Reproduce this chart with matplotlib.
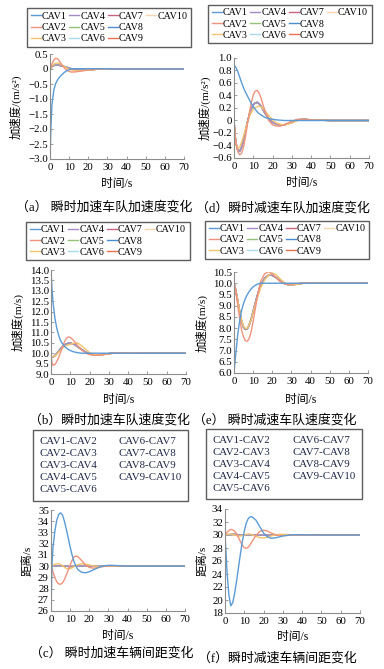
import numpy as np
import matplotlib
matplotlib.use('Agg')
import matplotlib.pyplot as plt
from matplotlib.lines import Line2D

plt.rcParams['font.family'] = ['Liberation Serif', 'Noto Sans CJK SC']

# ---------------- data ----------------
t = [0, 0.5, 1, 2, 3, 4, 5, 6, 7, 8, 9, 10, 11, 12, 13, 14, 16, 18, 20,
     22, 24, 26, 28, 30, 33, 36, 40, 50, 70]
t_flat = [0, 5, 10, 15, 20, 30, 40, 70]

cav_names = ['CAV1', 'CAV2', 'CAV3', 'CAV4', 'CAV5', 'CAV6', 'CAV7', 'CAV8', 'CAV9', 'CAV10']
gap_names = ['CAV1-CAV2', 'CAV2-CAV3', 'CAV3-CAV4', 'CAV4-CAV5', 'CAV5-CAV6',
             'CAV6-CAV7', 'CAV7-CAV8', 'CAV8-CAV9', 'CAV9-CAV10']

# (a) acceleration, accelerating platoon
a_cav1 = [-3.0, -1.9, -1.2, -0.7, -0.48, -0.36, -0.27, -0.2, -0.14, -0.09, -0.05, -0.02, 0.0, 0.01,
          0.01, 0.01, 0.01, 0.01, 0.01, 0.01, 0.01, 0.01, 0.01, 0.01, 0.0, 0.0, 0.0, 0.0, 0.0]
a_cav2 = [0.0, 0.08, 0.17, 0.3, 0.36, 0.34, 0.26, 0.16, 0.07, 0.0, -0.05, -0.08, -0.1, -0.1,
          -0.1, -0.09, -0.07, -0.05, -0.03, -0.02, -0.01, 0.0, 0.01, 0.01, 0.01, 0.0, 0.0, 0.0, 0.0]
a_cav3 = [0.0, 0.05, 0.1, 0.16, 0.19, 0.2, 0.18, 0.14, 0.1, 0.06, 0.02, -0.01, -0.03, -0.05,
          -0.06, -0.06, -0.06, -0.05, -0.04, -0.03, -0.01, 0.0, 0.01, 0.01, 0.01, 0.0, 0.0, 0.0, 0.0]
a_rest = [0.0, 0.04, 0.08, 0.12, 0.13, 0.13, 0.12, 0.11, 0.09, 0.07, 0.05, 0.03, 0.01, -0.01,
          -0.02, -0.03, -0.04, -0.04, -0.03, -0.02, -0.01, 0.0, 0.01, 0.01, 0.01, 0.0, 0.0, 0.0, 0.0]

# (d) acceleration, decelerating platoon
d_cav1 = [0.88, 0.87, 0.85, 0.78, 0.69, 0.6, 0.52, 0.45, 0.39, 0.33, 0.27, 0.22, 0.18, 0.14,
          0.11, 0.09, 0.05, 0.03, 0.02, 0.01, 0.005, 0.0, 0.0, 0.0, 0.0, 0.0, 0.0, 0.0, 0.0]
d_cav2 = [0.0, -0.2, -0.35, -0.5, -0.55, -0.52, -0.42, -0.25, -0.05, 0.13, 0.29, 0.41, 0.47, 0.48,
          0.44, 0.36, 0.16, 0.0, -0.07, -0.09, -0.09, -0.07, -0.04, -0.01, 0.02, 0.02, 0.01, 0.0, 0.0]
d_cav3 = [0.0, -0.25, -0.38, -0.45, -0.42, -0.34, -0.24, -0.13, -0.03, 0.06, 0.13, 0.18, 0.21, 0.22,
          0.23, 0.22, 0.16, 0.08, 0.01, -0.04, -0.06, -0.07, -0.06, -0.04, 0.0, 0.02, 0.01, 0.0, 0.0]
d_rest = [0.0, -0.22, -0.36, -0.48, -0.49, -0.42, -0.3, -0.16, -0.02, 0.1, 0.19, 0.25, 0.28, 0.29,
          0.27, 0.23, 0.12, 0.03, -0.03, -0.06, -0.07, -0.07, -0.05, -0.03, 0.01, 0.02, 0.01, 0.0, 0.0]

# (b) speed, accelerating platoon
b_cav1 = [14.0, 13.1, 12.5, 11.7, 11.2, 10.85, 10.6, 10.45, 10.33, 10.25, 10.18, 10.13, 10.09, 10.06,
          10.04, 10.02, 10.0, 10.0, 10.0, 10.0, 10.0, 10.0, 10.0, 10.0, 10.0, 10.0, 10.0, 10.0, 10.0]
b_cav2 = [9.95, 9.55, 9.42, 9.45, 9.6, 9.8, 10.05, 10.3, 10.55, 10.72, 10.78, 10.76, 10.68, 10.58,
          10.46, 10.34, 10.15, 10.0, 9.93, 9.9, 9.9, 9.92, 9.95, 9.98, 10.01, 10.02, 10.01, 10.0, 10.0]
b_cav3 = [9.85, 9.83, 9.83, 9.87, 9.95, 10.05, 10.15, 10.25, 10.32, 10.37, 10.4, 10.42, 10.45, 10.48,
          10.5, 10.48, 10.35, 10.18, 10.03, 9.95, 9.92, 9.92, 9.94, 9.97, 10.0, 10.02, 10.01, 10.0, 10.0]
b_rest = [9.85, 9.82, 9.82, 9.88, 9.98, 10.1, 10.22, 10.32, 10.4, 10.45, 10.48, 10.48, 10.46, 10.42,
          10.37, 10.3, 10.17, 10.05, 9.97, 9.93, 9.92, 9.93, 9.95, 9.98, 10.01, 10.02, 10.01, 10.0, 10.0]

# (e) speed, decelerating platoon
e_cav1 = [6.0, 6.5, 6.9, 7.75, 8.35, 8.8, 9.1, 9.33, 9.5, 9.64, 9.75, 9.84, 9.9, 9.95,
          9.98, 10.0, 10.0, 10.0, 10.0, 10.0, 10.0, 10.0, 10.0, 10.0, 10.0, 10.0, 10.0, 10.0, 10.0]
e_cav2 = [10.0, 9.85, 9.6, 9.0, 8.4, 7.9, 7.6, 7.43, 7.42, 7.55, 7.85, 8.3, 8.8, 9.3,
          9.75, 10.1, 10.42, 10.52, 10.42, 10.25, 10.08, 9.98, 9.95, 9.96, 9.99, 10.02, 10.01, 10.0, 10.0]
e_cav3 = [10.0, 9.85, 9.65, 9.2, 8.75, 8.35, 8.08, 7.98, 8.0, 8.15, 8.4, 8.7, 9.0, 9.3,
          9.55, 9.8, 10.15, 10.35, 10.45, 10.38, 10.2, 10.05, 9.95, 9.92, 9.95, 10.0, 10.02, 10.0, 10.0]
e_rest = [10.0, 9.85, 9.65, 9.2, 8.72, 8.3, 8.03, 7.94, 7.98, 8.15, 8.42, 8.75, 9.08, 9.4,
          9.68, 9.92, 10.22, 10.36, 10.35, 10.25, 10.12, 10.0, 9.94, 9.93, 9.96, 10.0, 10.02, 10.0, 10.0]

# (c) spacing, accelerating platoon
c_12 = [26.0, 30.0, 31.6, 33.1, 34.1, 34.6, 34.75, 34.55, 34.0, 33.3, 32.5, 31.7, 31.0, 30.4,
        30.0, 29.7, 29.45, 29.4, 29.5, 29.65, 29.82, 29.95, 30.03, 30.07, 30.06, 30.03, 30.0, 30.0, 30.0]
c_23 = [30.0, 29.8, 29.5, 29.0, 28.6, 28.42, 28.38, 28.5, 28.8, 29.2, 29.65, 30.1, 30.5, 30.8,
        30.9, 30.85, 30.5, 30.1, 29.88, 29.82, 29.85, 29.93, 29.98, 30.02, 30.03, 30.01, 30.0, 30.0, 30.0]
c_34 = [30.0, 30.03, 30.08, 30.15, 30.2, 30.2, 30.15, 30.05, 29.9, 29.8, 29.75, 29.77, 29.85, 29.95,
        30.05, 30.13, 30.2, 30.18, 30.1, 30.02, 29.97, 29.96, 29.98, 30.0, 30.0, 30.0, 30.0, 30.0, 30.0]
c_rest = [30.0, 30.04, 29.96, 30.03, 29.98, 30.01, 30.0, 30.0]

# (f) spacing, decelerating platoon
f_12 = [30.0, 27.5, 24.5, 20.8, 19.1, 19.6, 21.0, 22.9, 25.0, 27.1, 29.0, 30.6, 31.8, 32.5,
        32.8, 32.8, 32.3, 31.3, 30.3, 29.7, 29.5, 29.55, 29.7, 29.85, 29.98, 30.05, 30.02, 30.0, 30.0]
f_23 = [30.0, 30.2, 30.4, 30.7, 30.85, 30.8, 30.6, 30.2, 29.6, 29.0, 28.4, 28.05, 27.95, 28.1,
        28.5, 29.0, 29.9, 30.55, 30.75, 30.6, 30.3, 30.05, 29.92, 29.9, 29.95, 30.0, 30.02, 30.0, 30.0]
f_34 = [30.0, 30.05, 30.1, 30.15, 30.15, 30.1, 30.0, 29.9, 29.85, 29.85, 29.9, 30.0, 30.1, 30.15,
        30.15, 30.05, 29.8, 29.6, 29.55, 29.65, 29.85, 30.0, 30.1, 30.1, 30.05, 30.0, 30.0, 30.0, 30.0]
f_rest = [30.0, 30.1, 29.95, 30.05, 29.95, 30.02, 30.0, 30.0]

xticks = [0, 10, 20, 30, 40, 50, 60, 70]
a_yticks = [0.5, 0, -0.5, -1.0, -1.5, -2.0, -2.5, -3.0]
a_ylabels = ['0.5', '0', '\u22120.5', '\u22121.0', '\u22121.5', '\u22122.0', '\u22122.5', '\u22123.0']
d_yticks = [1.0, 0.8, 0.6, 0.4, 0.2, 0, -0.2, -0.4, -0.6]
d_ylabels = ['1.0', '0.8', '0.6', '0.4', '0.2', '0', '\u22120.2', '\u22120.4', '\u22120.6']
b_yticks = [14.0, 13.5, 13.0, 12.5, 12.0, 11.5, 11.0, 10.5, 10.0, 9.5, 9.0]
e_yticks = [10.5, 10.0, 9.5, 9.0, 8.5, 8.0, 7.5, 7.0, 6.5, 6.0]
c_yticks = [35, 34, 33, 32, 31, 30, 29, 28, 27, 26]
f_yticks = [34, 32, 30, 28, 26, 24, 22, 20, 18]

cav_colors = ['#5b9bd5', '#f0937c', '#f3c36c', '#a58bc6', '#95c07a',
              '#a9d9ee', '#c9647f', '#4a8ccf', '#e8714e', '#f8d5ad']

# ---------------- figure ----------------
W, H = 384, 669
fig = plt.figure(figsize=(W / 100, H / 100), dpi=100)


def px_axes(x0, x1, ytop, ybot):
    return fig.add_axes([x0 / W, 1 - ybot / H, (x1 - x0) / W, (ybot - ytop) / H])


def style(ax, ylim, yticks, ylabels, ylabel, ylab_x, xlab_y):
    ax.set_xlim(0, 70)
    ax.set_ylim(*ylim)
    ax.set_xticks(xticks)
    ax.set_yticks(yticks)
    ax.set_yticklabels(ylabels)
    for s in ['top', 'right']:
        ax.spines[s].set_visible(False)
    for s in ['left', 'bottom']:
        ax.spines[s].set_color('#8c8c8c')
        ax.spines[s].set_linewidth(0.8)
    ax.tick_params(direction='in', length=2, width=0.6, color='#8c8c8c',
                   labelsize=7.8, pad=1.5)
    ax.tick_params(axis='x', pad=3)
    ax.set_ylabel(ylabel, fontsize=8.2, va='center', ha='center')
    ax.yaxis.set_label_coords(ylab_x, 0.5)
    ax.set_xlabel('时间/s', fontsize=8.5, va='center')
    ax.xaxis.set_label_coords(0.5, xlab_y)


def cav_legend(cx, cy):
    handles = [Line2D([], [], color=c, lw=1.0) for c in cav_colors]
    labels = list(cav_names)
    # two empty slots so the 4th column holds only CAV10
    handles += [Line2D([], [], linestyle='none')] * 2
    labels += ['', '']
    fig.legend(handles, labels, loc='center', bbox_to_anchor=(cx / W, 1 - cy / H),
               ncol=4, fontsize=7.2, frameon=True, fancybox=False, edgecolor='#333333',
               handlelength=1.0, handletextpad=0.1, columnspacing=0.25,
               labelspacing=0.22, borderpad=0.35, borderaxespad=0)


def gap_legend(cx, cy):
    handles = [Line2D([], [], linestyle='none') for _ in gap_names]
    leg = fig.legend(handles, gap_names, loc='center', bbox_to_anchor=(cx / W, 1 - cy / H),
                     ncol=2, fontsize=7.8, frameon=True, fancybox=False, edgecolor='#333333',
                     handlelength=0, handletextpad=0, columnspacing=2.0,
                     labelspacing=0.22, borderpad=0.6, borderaxespad=0)
    for txt in leg.get_texts():
        txt.set_color('#1e2748')


def draw_cavs(ax, c1, c2, c3, rest):
    series = [c1, c2, c3] + [rest] * 7
    for i in range(9, -1, -1):
        ax.plot(t, series[i], color=cav_colors[i], lw=1.0)


# (a)
ax = px_axes(50, 184, 54, 159)
draw_cavs(ax, a_cav1, a_cav2, a_cav3, a_rest)
style(ax, (-3.0, 0.5), a_yticks, a_ylabels, '加速度/(m/s²)', -0.26, -0.24)
cav_legend(109, 27.5)

# (d)
ax = px_axes(234, 369, 58, 158)
draw_cavs(ax, d_cav1, d_cav2, d_cav3, d_rest)
style(ax, (-0.6, 1.0), d_yticks, d_ylabels, '加速度/(m/s²)', -0.22, -0.25)
cav_legend(290, 24)

# (b)
ax = px_axes(51, 186, 270, 374)
draw_cavs(ax, b_cav1, b_cav2, b_cav3, b_rest)
style(ax, (9.0, 14.0), b_yticks, ['%.1f' % v for v in b_yticks], '加速度(m/s)', -0.245, -0.25)
cav_legend(108, 241)

# (e)
ax = px_axes(234, 368, 272, 373)
draw_cavs(ax, e_cav1, e_cav2, e_cav3, e_rest)
style(ax, (6.0, 10.5), e_yticks, ['%.1f' % v for v in e_yticks], '加速度(m/s)', -0.24, -0.267)
cav_legend(287, 240)

# (c)
ax = px_axes(51, 185, 510, 611)
gap_series = [c_12, c_23, c_34]
for i in range(8, 2, -1):
    ax.plot(t_flat, c_rest, color=cav_colors[i], lw=1.0)
for i in range(2, -1, -1):
    ax.plot(t, gap_series[i], color=cav_colors[i], lw=1.0)
style(ax, (26, 35), c_yticks, [str(v) for v in c_yticks], '距离/s', -0.18, -0.248)
gap_legend(110.5, 465.5)

# (f)
ax = px_axes(225, 360, 509, 613)
gap_series = [f_12, f_23, f_34]
for i in range(8, 2, -1):
    ax.plot(t_flat, f_rest, color=cav_colors[i], lw=1.0)
for i in range(2, -1, -1):
    ax.plot(t, gap_series[i], color=cav_colors[i], lw=1.0)
style(ax, (18, 34), f_yticks, [str(v) for v in f_yticks], '距离/s', -0.17, -0.23)
gap_legend(284, 464)

# captions
captions = [(104, 207, '（a） 瞬时加速车队加速度变化'),
            (283, 208, '（d）瞬时减速车队加速度变化'),
            (109, 420, '（b）瞬时加速车队速度变化'),
            (275, 420, '（e） 瞬时减速车队速度变化'),
            (112, 653, '（c） 瞬时加速车辆间距变化'),
            (277, 658, '（f）瞬时减速车辆间距变化')]
for x, y, s in captions:
    fig.text(x / W, 1 - y / H, s, ha='center', va='center', fontsize=9.3)

fig.savefig('out.png', dpi=100)
